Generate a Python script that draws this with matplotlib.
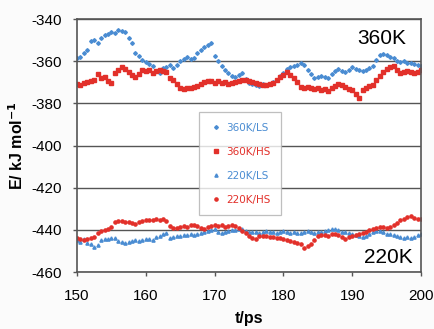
import numpy as np
import matplotlib
matplotlib.use('Agg')
import matplotlib.pyplot as plt

# time axis, one frame every 0.5 ps
t = np.arange(150, 200.01, 0.5)

e_360_ls = [-358.5, -357.8, -356.0, -354.6, -350.2, -349.8, -351.2, -349.0, -347.5, -347.2,
            -346.0, -346.8, -345.3, -345.8, -346.2, -348.8, -351.5, -355.9, -357.6, -359.4,
            -360.2, -361.5, -362.3, -364.6, -365.8, -363.4, -362.5, -362.0, -363.2, -361.8,
            -359.8, -359.0, -358.1, -358.9, -358.4, -356.3, -354.8, -353.4, -352.2, -351.5,
            -357.5, -360.0, -362.1, -364.0, -365.8, -367.2, -367.5, -366.3, -365.6, -368.4,
            -370.3, -370.8, -371.2, -371.6, -371.0, -371.3, -370.6, -369.8, -369.0, -367.1,
            -365.6, -363.8, -362.9, -362.2, -361.6, -360.7, -361.8, -364.0, -366.2, -367.9,
            -367.6, -366.9, -367.4, -368.1, -366.0, -364.4, -363.8, -364.5, -365.2, -364.0,
            -362.9, -363.6, -364.1, -364.6, -364.2, -363.0, -362.1, -359.2, -357.1, -356.6,
            -357.0, -357.8, -358.6, -359.8, -360.4, -360.0, -360.6, -360.9, -361.2, -361.6,
            -362.1]

e_360_hs = [-370.6, -371.2, -370.4, -370.0, -369.6, -368.9, -366.0, -367.9, -367.4, -369.2,
            -370.1, -365.8, -364.0, -362.7, -363.6, -364.9, -366.5, -367.4, -366.0, -364.2,
            -364.5, -364.0, -365.6, -364.8, -364.1, -364.6, -365.2, -367.9, -368.7, -370.8,
            -372.9, -373.2, -372.8, -372.6, -372.1, -371.6, -370.8, -369.9, -369.2, -369.6,
            -370.1, -369.5, -370.3, -369.9, -370.6, -370.4, -369.8, -369.3, -369.0, -368.7,
            -369.2, -369.8, -370.2, -370.6, -371.1, -371.5, -370.8, -370.2, -368.9, -367.6,
            -366.5, -365.1, -366.4, -367.8, -369.9, -372.1, -372.6, -372.3, -372.9, -373.1,
            -372.8, -373.4, -373.2, -373.9, -372.9, -371.6, -370.6, -371.4, -372.2, -373.0,
            -373.7, -375.6, -377.5, -373.6, -372.8, -371.9, -371.4, -369.0, -366.8, -365.0,
            -363.6, -362.8, -362.2, -364.1, -365.6, -364.9, -364.4, -365.2, -365.8, -365.0,
            -364.2]

e_220_ls = [-445.0, -445.6, -444.4, -446.1, -446.8, -447.9, -447.2, -444.6, -444.1, -444.5,
            -443.6, -443.9, -445.2, -445.8, -446.1, -445.6, -445.2, -444.8, -445.3, -444.9,
            -444.5, -444.2, -444.6, -443.5, -442.9, -441.8, -441.3, -443.9, -443.4, -443.0,
            -442.8, -442.4, -442.6, -441.9, -442.3, -441.8, -441.6, -440.8, -440.6, -440.1,
            -439.6, -440.9, -441.3, -440.8, -440.4, -439.9, -440.2, -439.5, -439.8, -440.6,
            -440.9, -441.2, -441.0, -441.5, -441.2, -440.7, -441.1, -440.8, -441.3, -441.0,
            -440.6, -441.2, -441.5, -440.9, -441.3, -441.6, -441.0, -440.7, -441.1, -441.4,
            -440.9, -441.2, -440.5, -440.1, -439.7, -439.4, -440.2, -440.8, -441.2, -441.5,
            -441.9, -442.6, -443.0, -443.4, -442.8, -441.9, -441.2, -440.7, -440.4, -441.0,
            -441.7, -442.1, -442.6, -443.1, -443.4, -443.6, -443.5, -443.9, -443.4, -442.6,
            -442.0]

e_220_hs = [-443.6, -444.2, -444.9, -444.5, -443.9, -443.2, -441.6, -440.4, -440.0, -439.4,
            -438.6, -436.4, -435.6, -435.9, -436.1, -436.4, -436.9, -437.2, -436.3, -435.6,
            -435.1, -435.5, -435.3, -435.0, -435.4, -434.7, -436.0, -438.3, -439.3, -439.1,
            -438.7, -438.1, -438.4, -437.8, -437.5, -438.2, -438.9, -439.4, -438.8, -438.3,
            -437.9, -438.2, -437.8, -438.4, -438.1, -437.6, -438.0, -439.0, -440.3, -441.6,
            -442.7, -443.9, -444.2, -443.1, -442.8, -443.1, -443.4, -443.2, -443.6, -443.9,
            -444.2, -444.6, -445.1, -445.6, -446.3, -446.9, -448.4, -447.6, -446.8, -444.9,
            -443.1, -442.5, -442.2, -442.7, -442.1, -441.9, -442.6, -443.5, -444.2, -443.4,
            -442.7, -442.3, -442.0, -441.4, -440.8, -440.1, -439.6, -439.3, -438.8, -438.5,
            -439.2, -438.4, -437.9, -436.8, -435.4, -434.6, -433.8, -433.3, -434.2, -434.6,
            -434.7]

blue = '#4a8cd2'
red = '#e2302a'

plt.rcParams['font.family'] = ['Liberation Sans', 'DejaVu Sans']
plt.rcParams['axes.unicode_minus'] = False

fig = plt.figure(figsize=(4.35, 3.29), dpi=100, facecolor='#fbfbfb')
ax = fig.add_axes([0.177, 0.173, 0.791, 0.769])
ax.set_facecolor('white')

ax.plot(t, e_360_ls, 'D', color=blue, markersize=1.9, label='360K/LS')
ax.plot(t, e_360_hs, 's', color=red, markersize=2.3, label='360K/HS')
ax.plot(t, e_220_ls, '^', color=blue, markersize=2.3, label='220K/LS')
ax.plot(t, e_220_hs, 'o', color=red, markersize=2.3, label='220K/HS')

ax.set_xlim(150, 200)
ax.set_ylim(-460, -340)
ax.set_xticks(np.arange(150, 201, 10))
ax.set_yticks(np.arange(-460, -339, 20))
ax.yaxis.grid(True, color='#555555', linewidth=1.0)
ax.set_axisbelow(True)
for s in ax.spines.values():
    s.set_color('#555555')
    s.set_linewidth(1.2)
ax.tick_params(axis='both', labelsize=11, length=3, color='#555555', width=1)
ax.tick_params(axis='x', pad=9)
ax.tick_params(axis='y', pad=8)

ax.set_xlabel('t/ps', fontsize=11.5, fontweight='bold', labelpad=6)
ax.set_ylabel('E/ kJ mol$^{\\mathbf{-1}}$', fontsize=11.5, fontweight='bold', labelpad=4)

ax.text(0.956, 0.925, '360K', transform=ax.transAxes, ha='right', va='center', fontsize=15)
ax.text(0.975, 0.056, '220K', transform=ax.transAxes, ha='right', va='center', fontsize=15)

leg = ax.legend(loc='upper left', bbox_to_anchor=(0.355, 0.632),
                frameon=True, fancybox=False, edgecolor='#b0b0b0', borderpad=1.0,
                labelspacing=1.35, handlelength=1.2, handletextpad=0.4, markerscale=1.0,
                borderaxespad=0, prop={'family': 'DejaVu Sans', 'size': 7.5})
leg.get_frame().set_linewidth(0.9)
for txt, c in zip(leg.get_texts(), [blue, red, blue, red]):
    txt.set_color(c)

fig.savefig('out.png', dpi=100, facecolor=fig.get_facecolor())
